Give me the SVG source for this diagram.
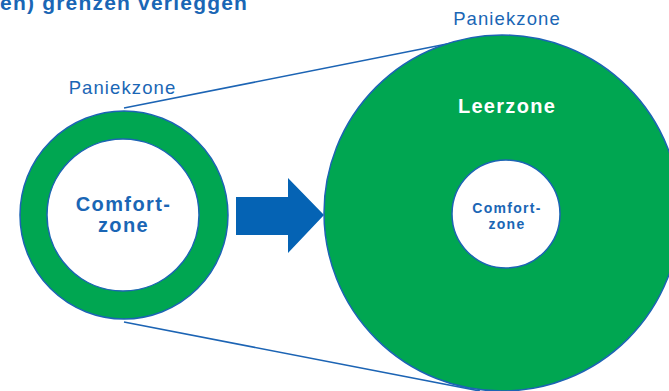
<svg xmlns="http://www.w3.org/2000/svg" width="669" height="391" viewBox="0 0 669 391">
<style>
.ring{fill:#00A651;stroke:#1C64B4;stroke-width:1.5}
.hole{fill:#FFFFFF;stroke:#1C64B4;stroke-width:1.5}
.conn{stroke:#1C64B4;stroke-width:1.6;fill:none}
.t{font-family:"Liberation Sans",Arial,sans-serif;fill:#1A66B5}
.b{font-weight:bold}
.pz{font-size:18.5px;letter-spacing:1.1px}
.cz{font-size:20px;letter-spacing:1.4px}
.sz{font-size:14px;letter-spacing:1.3px}
</style>
<rect width="669" height="391" fill="#FFFFFF"/>
<text id="title" class="t b" x="0" y="10" font-size="21" letter-spacing="1.2">en) grenzen verleggen</text>
<g id="connectors">
<line class="conn" x1="124" y1="108" x2="482" y2="37"/>
<line class="conn" x1="124" y1="322" x2="480" y2="391"/>
<path id="arrow" d="M236 197 H288 V178 L324 215 L288 253 V235 H236 Z" fill="#0563B4"/>
</g>
<g id="small-zone">
<circle class="ring" cx="124" cy="215" r="104"/>
<circle class="hole" cx="123" cy="215" r="76"/>
<text class="t b cz" x="123.5" y="210.5" text-anchor="middle">Comfort-</text>
<text class="t b cz" x="123.5" y="231.5" text-anchor="middle">zone</text>
<text class="t pz" x="122.5" y="94" text-anchor="middle">Paniekzone</text>
</g>
<g id="large-zone">
<circle class="ring" cx="502" cy="213" r="178"/>
<circle class="hole" cx="506" cy="214" r="54"/>
<text class="t b" x="507" y="112.5" font-size="20" letter-spacing="1.3" text-anchor="middle" style="fill:#FFFFFF">Leerzone</text>
<text class="t b sz" x="507" y="213" text-anchor="middle">Comfort-</text>
<text class="t b sz" x="507" y="228.5" text-anchor="middle">zone</text>
<text class="t pz" x="507" y="25" text-anchor="middle">Paniekzone</text>
</g>
</svg>
